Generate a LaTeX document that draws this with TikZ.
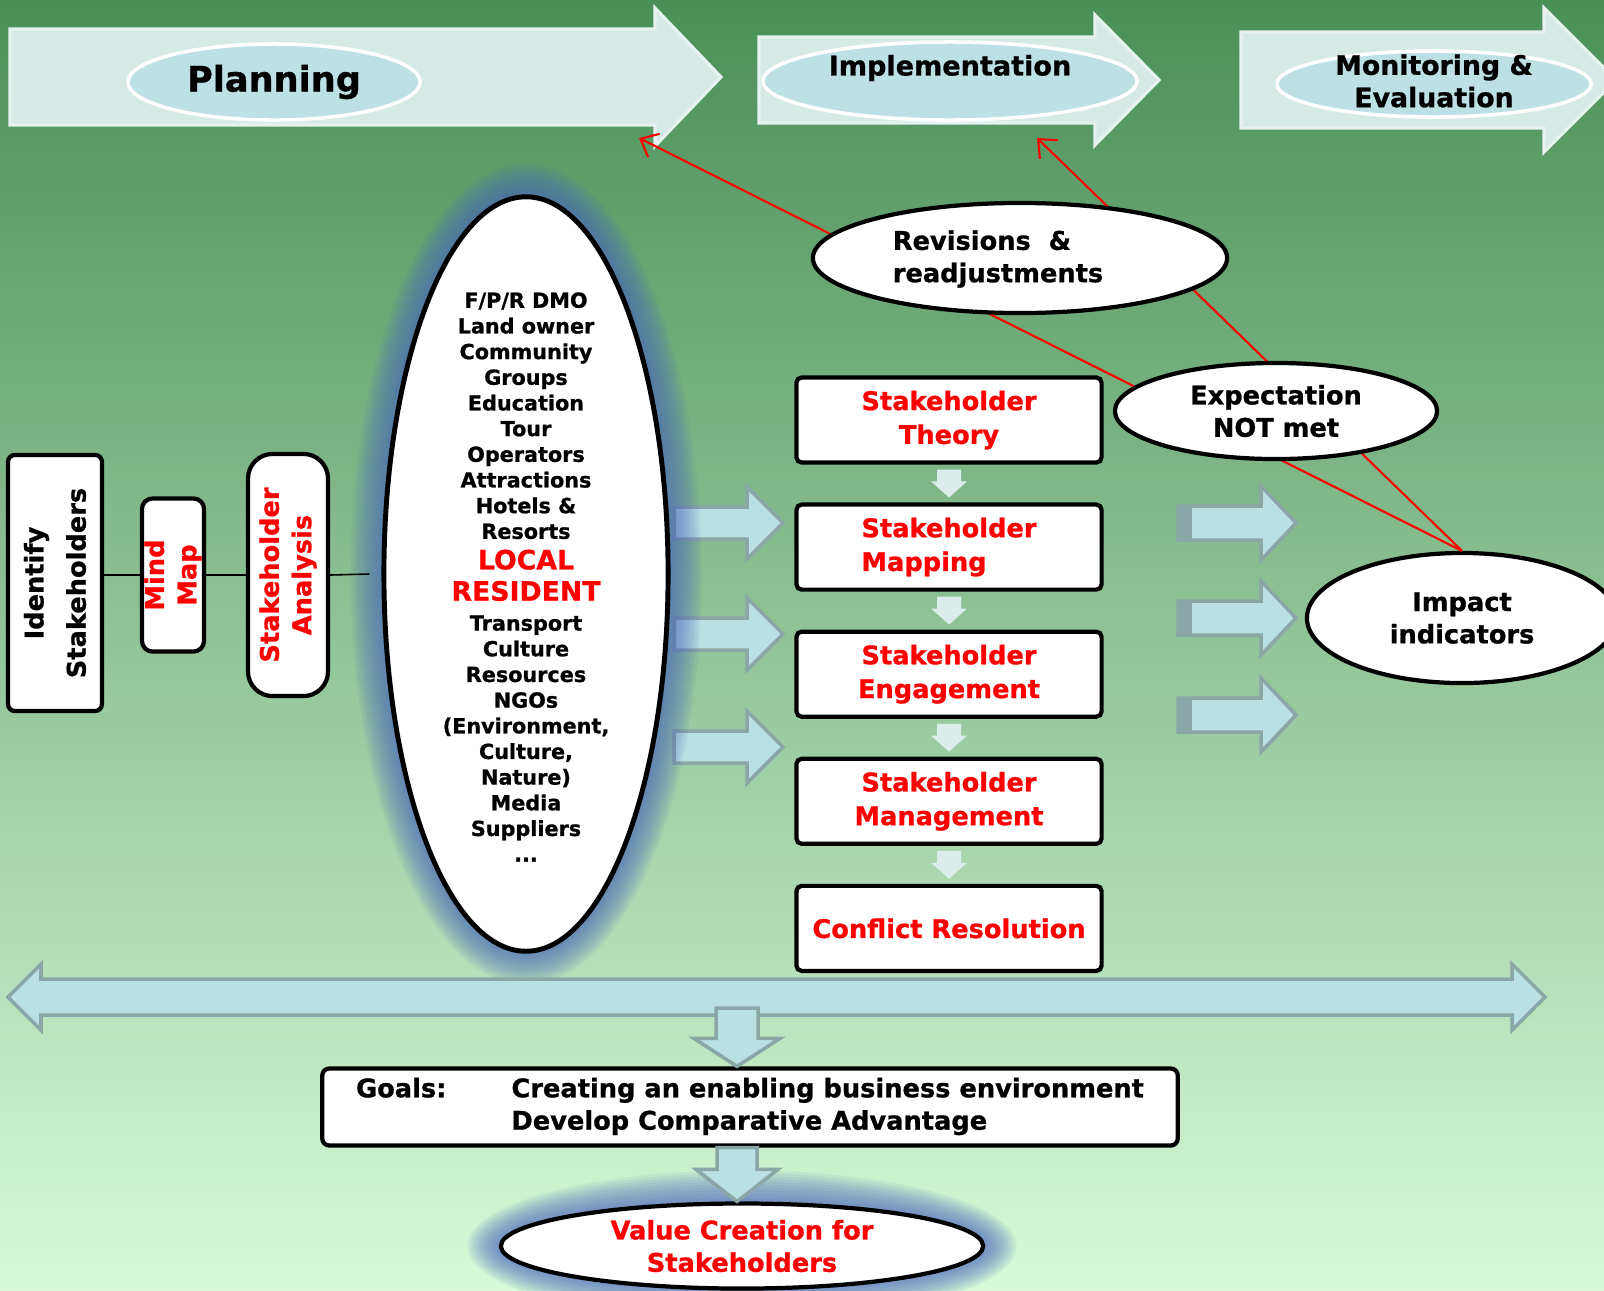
\documentclass[tikz,border=0pt]{standalone}
\usepackage{fontspec}
\setmainfont{DejaVu Sans}[BoldFeatures={FakeBold=0.9}]
\usetikzlibrary{shapes.geometric,positioning,calc,arrows.meta}
\definecolor{bgtop}{RGB}{74,143,88}
\definecolor{bgbot}{RGB}{216,250,216}
\definecolor{topfill}{RGB}{214,234,229}
\definecolor{topedge}{RGB}{230,242,240}
\definecolor{ellblue}{RGB}{188,224,228}
\definecolor{arrfill}{RGB}{185,224,226}
\definecolor{arredge}{RGB}{138,166,166}
\definecolor{downfill}{RGB}{218,237,235}
\definecolor{glowblue}{RGB}{72,102,190}

\newcommand\hblock[7][]{\filldraw[#1] (#2,#5-#6) -- (#3,#5-#6) -- (#3,#5-#7) -- (#4,#5) -- (#3,#5+#7) -- (#3,#5+#6) -- (#2,#5+#6) -- cycle;}
\newcommand\vblock[6][]{\filldraw[#1] ($(#2)+(-#4,0)$) -- ($(#2)+(#4,0)$) -- ($(#2|-#3)+(#4,-#6)$) -- ($(#2|-#3)+(#5,-#6)$) -- (#2|-#3) -- ($(#2|-#3)+(-#5,-#6)$) -- ($(#2|-#3)+(-#4,-#6)$) -- cycle;}
\newcommand\glow[3]{\foreach \g in {1,...,12}{\fill[glowblue,opacity=0.085] (#1) ellipse ({#2+2.8*\g} and {#3+2.8*\g});}}

\begin{document}
\begin{tikzpicture}[x=0.01cm,y=-0.01cm,
  every node/.style={font=\fontsize{7.3}{9.2}\selectfont\bfseries,align=center,inner sep=0pt},
  topell/.style={ellipse,fill=ellblue,draw=white,line width=1pt},
  topblk/.style={fill=topfill,draw=topedge,line width=0.9pt},
  sideblk/.style={fill=arrfill,draw=arredge,line width=1pt},
  stepbox/.style={rectangle,rounded corners=1.5pt,draw,line width=1.2pt,fill=white,text=red,
    minimum width=3.05cm,minimum height=0.85cm,font=\fontsize{7.3}{9.6}\selectfont\bfseries},
  oval/.style={ellipse,draw,line width=1.2pt,fill=white},
  vbox/.style={rectangle,draw,line width=1.2pt,fill=white,rotate=90},
  fb/.style={red,line width=0.6pt,-{Straight Barb[length=1.5mm,width=2.6mm]}}
  ]
  \useasboundingbox (0,0) rectangle (1604,1290);
  \clip (0,0) rectangle (1604,1290);
  \shade[top color=bgtop,bottom color=bgbot] (0,0) rectangle (1604,1290);

  \hblock[topblk]{10}{655}{721}{77}{48}{69}
  \hblock[topblk]{759}{1095}{1159}{80}{43}{65}
  \hblock[topblk]{1241}{1544}{1616}{80}{48}{72}
  \node[topell,minimum width=2.92cm,minimum height=0.76cm,font=\fontsize{10}{12}\selectfont\bfseries] (plan) at (274,82) {Planning};
  \node[topell,minimum width=3.74cm,minimum height=0.78cm] (impl) at (950,81) {};
  \node[font=\fontsize{7.7}{10}\selectfont\bfseries] (impltxt) at (950,68) {Implementation};
  \node[topell,minimum width=3.14cm,minimum height=0.66cm] (moneval) at (1434,84) {};
  \node[font=\fontsize{7.6}{9.2}\selectfont\bfseries] (montxt) at (1434,81) {Monitoring \&\\Evaluation};

  \node[vbox,rounded corners=2pt,minimum width=2.56cm,minimum height=0.94cm,font=\fontsize{7.3}{12}\selectfont\bfseries] (identify) at (55,583) {Identify\\Stakeholders};
  \node[vbox,rounded corners=3pt,minimum width=1.53cm,minimum height=0.62cm,text=red] (mindmap) at (173,575) {Mind\\Map};
  \node[vbox,rounded corners=7pt,minimum width=2.42cm,minimum height=0.80cm,text=red] (analysis) at (288,575) {Stakeholder\\Analysis};

  \foreach \y in {523,634,747} {\hblock[sideblk]{674}{747}{783}{\y}{16}{36}}
  \foreach \y in {523,618,715} {\hblock[sideblk]{1178}{1261}{1296}{\y}{17}{37}
    \fill[arredge] (1178,\y-17) rectangle (1192,\y+17);}

  \glow{526,574}{142}{377}
  \node[oval,line width=1.4pt,minimum width=2.84cm,minimum height=7.54cm] (stake) at (526,574) {};
  \node[font=\fontsize{5.9}{7.3}\selectfont\bfseries] (stakelist) at (526,577) {F/P/R DMO\\Land owner\\Community\\Groups\\Education\\Tour\\Operators\\Attractions\\Hotels \&\\Resorts\\[1.4pt]
    {\color{red}\fontsize{7.6}{8}\selectfont LOCAL}\\[1.6pt]
    {\color{red}\fontsize{7.6}{8}\selectfont RESIDENT}\\[1.2pt]
    Transport\\Culture\\Resources\\NGOs\\(Environment,\\Culture,\\Nature)\\Media\\Suppliers\\...};
  \draw[line width=0.45pt] (identify.south |- mindmap.center) -- (mindmap.north) (mindmap.south) -- (analysis.north) (analysis.south) -- ([xshift=-0.12cm]stake.west);

  \node[stepbox] (theory) at (949,420) {Stakeholder\\Theory};
  \node[stepbox,below=0.378cm of theory,align=left] (mapping) {Stakeholder\\Mapping};
  \node[stepbox,below=0.378cm of mapping] (engage) {Stakeholder\\Engagement};
  \node[stepbox,below=0.378cm of engage] (manage) {Stakeholder\\Management};
  \node[stepbox,below=0.378cm of manage] (conflict) {Conflict Resolution};
  \foreach \a/\b in {theory/mapping,mapping/engage,engage/manage,manage/conflict}{
    \coordinate (s) at ($(\a.south)+(0,5)$);
    \coordinate (t) at ($(\b.north)+(0,-5)$);
    \vblock[fill=downfill,draw=none]{s}{t}{12}{18}{16}}

  \node[oval,minimum width=3.10cm,minimum height=1.30cm] (impact) at (1462,618) {Impact\\indicators};
  \coordinate (planhead) at (639,138);
  \coordinate (implhead) at (1037,138);
  \draw[fb] (impact.north) -- (planhead);
  \draw[fb] (impact.north) -- (implhead);
  \node[oval,minimum width=4.14cm,minimum height=1.10cm] (revise) at (1020,258) {};
  \node[align=left] (revtxt) at (998,259) {Revisions\ \ \&\\readjustments};
  \node[oval,minimum width=3.22cm,minimum height=0.96cm] (expect) at (1276,411) {Expectation\\NOT met};

  \filldraw[sideblk] (8,997) -- (41,964) -- (41,979) -- (1512,979) -- (1512,964) -- (1545,997) -- (1512,1030) -- (1512,1015) -- (41,1015) -- (41,1030) -- cycle;
  \coordinate (band) at (737,1008);
  \node[rectangle,rounded corners=2pt,draw,line width=1.2pt,fill=white,minimum width=8.55cm,minimum height=0.77cm] (goals) at (750,1107)
    {\begin{tabular}{@{}l@{\hspace{0.65cm}}l@{}}Goals: & Creating an enabling business environment\\ & Develop Comparative Advantage\end{tabular}};
  \glow{742,1246}{241}{42}
  \node[oval,text=red,minimum width=4.82cm,minimum height=0.85cm] (value) at (742,1246) {Value Creation for\\Stakeholders};
  \vblock[sideblk]{band}{goals.north}{21}{43}{28}
  \coordinate (gb) at (band |- goals.south);
  \vblock[sideblk]{gb}{value.north}{20}{41}{32}
\end{tikzpicture}
\end{document}
